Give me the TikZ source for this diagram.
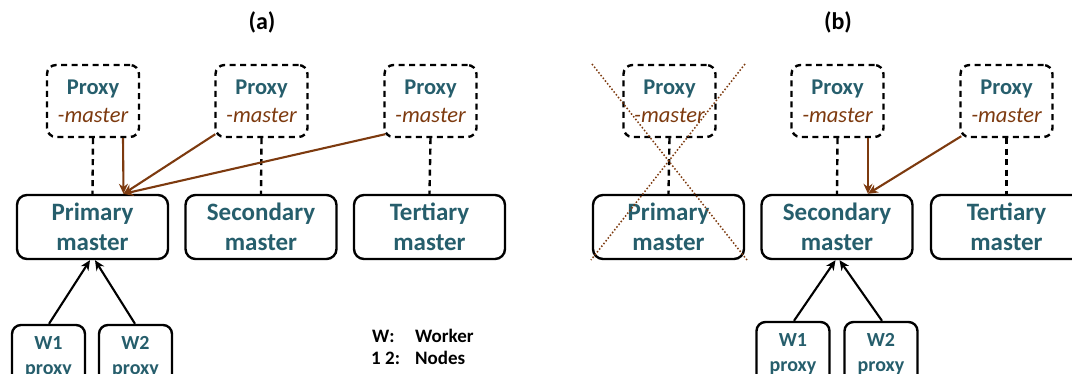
\documentclass[tikz,border=0pt]{standalone}
\usepackage{fontspec}
\setmainfont{Carlito}
\usetikzlibrary{arrows.meta,calc}
\definecolor{tealtxt}{RGB}{38,94,108}
\definecolor{brn}{RGB}{125,58,15}
\begin{document}
\begin{tikzpicture}[x=1pt,y=-1pt,
  proxybox/.style={draw, dash pattern=on 6pt off 4.5pt, line width=2.4pt, rounded corners=9pt,
    minimum width=92pt, minimum height=72pt, align=center, inner sep=0pt,
    font=\fontsize{22.5}{28}\selectfont},
  masterbox/.style={draw, line width=2.4pt, rounded corners=10pt, minimum width=151pt,
    minimum height=64pt, align=center, inner sep=0pt, text=tealtxt,
    font=\bfseries\fontsize{25}{30}\selectfont},
  workerbox/.style={draw, line width=2.4pt, rounded corners=9pt, minimum width=73pt,
    minimum height=64pt, align=center, inner sep=0pt, text=tealtxt,
    font=\bfseries\fontsize{20}{25}\selectfont},
  dashlink/.style={draw, line width=2.4pt, dash pattern=on 6pt off 4.5pt},
  brnarrow/.style={draw=brn, line width=2.1pt, -{Stealth[length=10pt,width=9pt]}},
  blkarrow/.style={draw, line width=2.1pt, -{Stealth[length=10pt,width=9pt]}},
  crossline/.style={draw=brn, line width=1.5pt, dotted},
  title/.style={font=\bfseries\fontsize{24}{28}\selectfont, anchor=base},
  legend/.style={font=\bfseries\fontsize{19}{22}\selectfont, anchor=base west, inner sep=0pt}
]
\useasboundingbox (0,0) rectangle (1072,374);
\newcommand{\proxytext}{{\bfseries\color{tealtxt}Proxy}\\{\itshape\color{brn}-master}}

% titles
\node[title] (ta) at (262,30) {(a)};
\node[title] (tb) at (838,30) {(b)};

% panel (a)
\node[proxybox] (pa1) at (93,101) {\proxytext};
\node[proxybox] (pa2) at (261.5,101) {\proxytext};
\node[proxybox] (pa3) at (430.5,101) {\proxytext};
\node[masterbox] (ma1) at (92.5,227) {Primary\\master};
\node[masterbox] (ma2) at (261,227) {Secondary\\master};
\node[masterbox] (ma3) at (429.5,227) {Tertiary\\master};
\draw[dashlink] (pa1.south) -- (ma1.north);
\draw[dashlink] (pa2.south) -- (ma2.north);
\draw[dashlink] (pa3.south) -- (ma3.north);
\coordinate (ta1) at ($(ma1.north)+(31,0)$);
\coordinate (sa1) at ($(pa1.south)+(30,0)$);
\coordinate (sa2) at ($(pa2.south west)+(1,-4)$);
\coordinate (sa3) at ($(pa3.south west)+(2,-4)$);
\draw[brnarrow] (sa1) -- (ta1);
\draw[brnarrow] (sa2) -- (ta1);
\draw[brnarrow] (sa3) -- (ta1);
\node[workerbox] (wa1) at (48.5,357) {W1\\proxy};
\node[workerbox] (wa2) at (135.5,357) {W2\\proxy};
\draw[blkarrow] ($(wa1.north)+(0.5,0)$) -- ($(ma1.south)+(-2.5,0)$);
\draw[blkarrow] ($(wa2.north)+(-0.5,0)$) -- ($(ma1.south)+(2.5,0)$);

% legend
\node[legend] (l1) at (372,343) {W:};
\node[legend] (l2) at (415,343) {Worker};
\node[legend] (l3) at (371,365) {1 2:};
\node[legend] (l4) at (415,365) {Nodes};

% panel (b)
\node[proxybox] (pb1) at (669.5,101) {\proxytext};
\node[proxybox] (pb2) at (837.5,101) {\proxytext};
\node[proxybox] (pb3) at (1006.5,101) {\proxytext};
\node[masterbox] (mb1) at (668.5,227) {Primary\\master};
\node[masterbox] (mb2) at (837,227) {Secondary\\master};
\node[masterbox] (mb3) at (1006.5,227) {Tertiary\\master};
\draw[dashlink] (pb1.south) -- (mb1.north);
\draw[dashlink] (pb2.south) -- (mb2.north);
\draw[dashlink] (pb3.south) -- (mb3.north);
\coordinate (tb2) at ($(mb2.north)+(31,0)$);
\coordinate (sb2) at ($(pb2.south)+(30.5,0)$);
\coordinate (sb3) at ($(pb3.south west)+(2,-2)$);
\draw[brnarrow] (sb2) -- (tb2);
\draw[brnarrow] (sb3) -- (tb2);
\node[workerbox] (wb1) at (793,354) {W1\\proxy};
\node[workerbox] (wb2) at (881,354) {W2\\proxy};
\draw[blkarrow] ($(wb1.north)+(1,0)$) -- ($(mb2.south)+(-1.5,0)$);
\draw[blkarrow] ($(wb2.north)+(1,0)$) -- ($(mb2.south)+(2.5,0)$);

% cross
\coordinate (c1) at (592,64);
\coordinate (c2) at (747,260);
\coordinate (c3) at (745,64);
\coordinate (c4) at (591,260);
\draw[crossline] (c1) -- (c2);
\draw[crossline] (c3) -- (c4);
\end{tikzpicture}
\end{document}
